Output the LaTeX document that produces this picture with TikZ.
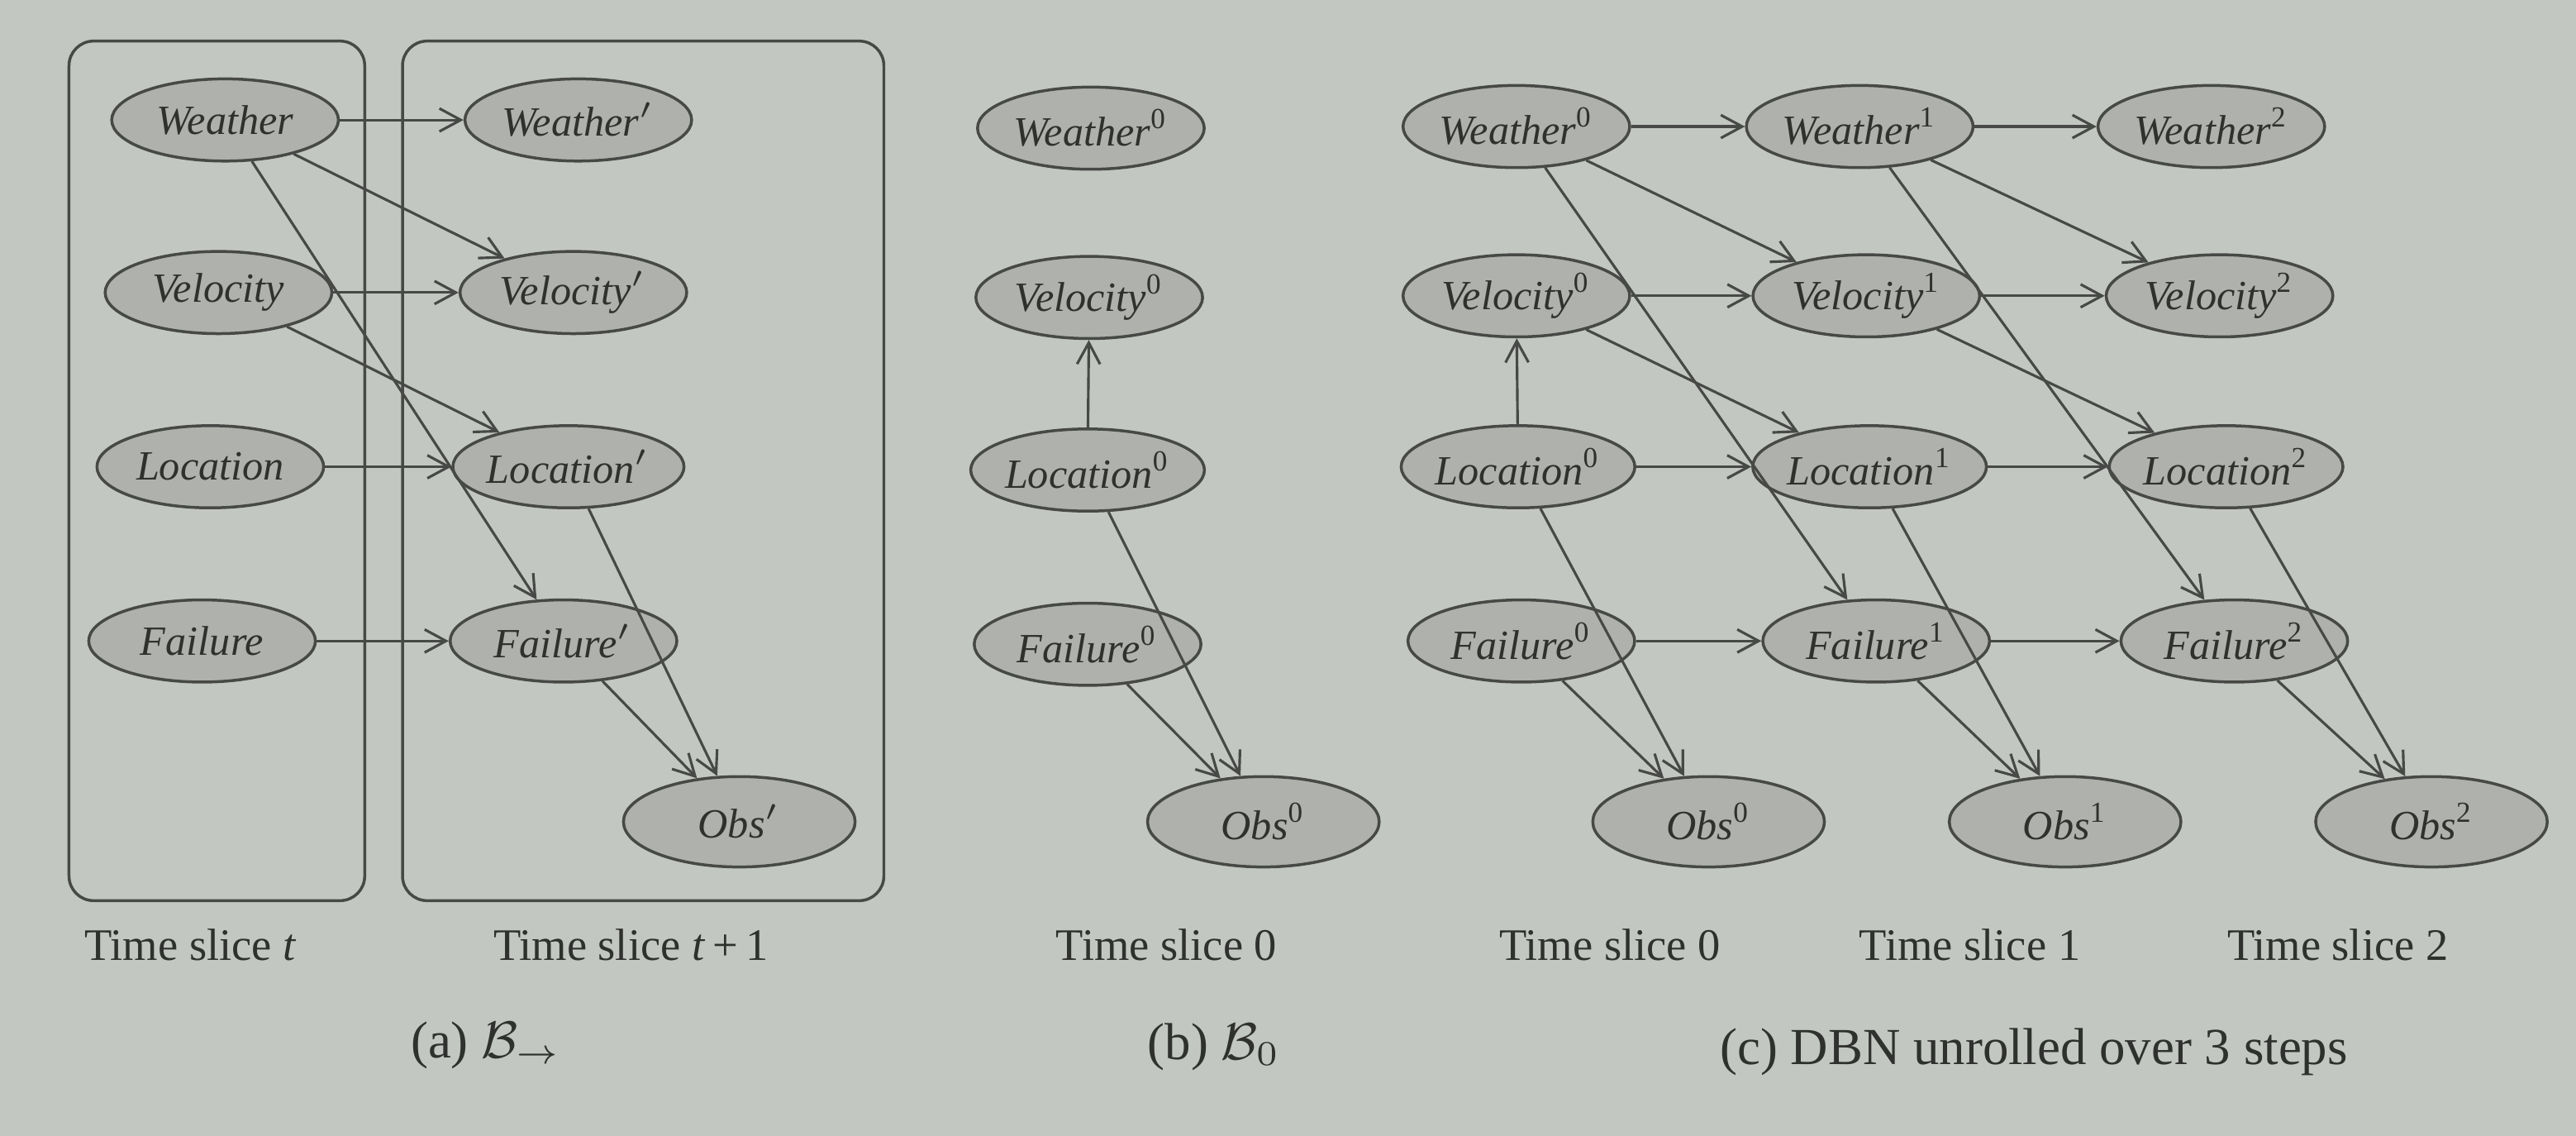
\documentclass[tikz,border=0pt]{standalone}
\usepackage{fontspec}
\setmainfont{Liberation Serif}
\usepackage{tikz}
\usetikzlibrary{arrows.meta,shapes.geometric}
\definecolor{paper}{HTML}{C3C7C2}
\definecolor{shade}{HTML}{AEB1AC}
\definecolor{ink}{HTML}{474946}
\definecolor{txt}{HTML}{2F312E}
\newcommand{\tsup}[1]{\textsuperscript{\upshape #1}}

\begin{document}
\begin{tikzpicture}[
 v/.style={ellipse,draw=ink,line width=.5pt,fill=shade,inner sep=0pt,minimum width=1.38cm,minimum height=.5cm,font=\fontsize{7.2}{8}\selectfont\itshape,text=txt},
 o/.style={v,minimum width=1.41cm,minimum height=.55cm},
 a/.style={-{Straight Barb[length=1.3mm,width=1.4mm]},draw=ink,line width=.45pt},
 box/.style={draw=ink,line width=.5pt,rounded corners=1.5mm},
 lbl/.style={font=\fontsize{7.8}{9}\selectfont,text=txt},
 capt/.style={font=\fontsize{9}{11}\selectfont,text=txt}
]
\fill[paper] (0,0) rectangle (15.68,-6.91);
\useasboundingbox (0,0) rectangle (15.68,-6.91);

% (a) two-slice network
\draw[box] (0.42,-0.25) rectangle (2.22,-5.48);
\draw[box] (2.45,-0.25) rectangle (5.38,-5.48);
\node[v] (aW) at (1.37,-0.73) {Weather};
\node[v] (aV) at (1.33,-1.78) {Velocity};
\node[v] (aL) at (1.28,-2.84) {Location};
\node[v] (aF) at (1.23,-3.90) {Failure};
\node[v] (aWn) at (3.52,-0.73) {Weather$'$};
\node[v] (aVn) at (3.49,-1.78) {Velocity$'$};
\node[v] (aLn) at (3.46,-2.84) {Location$'$};
\node[v] (aFn) at (3.43,-3.90) {Failure$'$};
\node[o] (aOn) at (4.50,-5.00) {Obs$'$};
\draw[a] (aW)--(aWn); \draw[a] (aW)--(aVn); \draw[a] (aW)--(aFn);
\draw[a] (aV)--(aVn); \draw[a] (aV)--(aLn);
\draw[a] (aL)--(aLn); \draw[a] (aF)--(aFn);
\draw[a] (aLn)--(aOn); \draw[a] (aFn)--(aOn);
\node[lbl] (aT0) at (1.16,-5.75) {Time slice \textit{t}};
\node[lbl] (aT1) at (3.84,-5.75) {Time slice \textit{t}\,+\,1};
\node[capt] (aCap) at (2.96,-6.36) {(a) $\mathcal{B}_{\rightarrow}$};

% (b) initial slice
\node[v] (bW) at (6.64,-0.78) {Weather\tsup{0}};
\node[v] (bV) at (6.63,-1.81) {Velocity\tsup{0}};
\node[v] (bL) at (6.62,-2.86) {Location\tsup{0}};
\node[v] (bF) at (6.62,-3.92) {Failure\tsup{0}};
\node[o] (bO) at (7.69,-5.00) {Obs\tsup{0}};
\draw[a] (bL)--(bV); \draw[a] (bL)--(bO); \draw[a] (bF)--(bO);
\node[lbl] (bT0) at (7.10,-5.75) {Time slice 0};
\node[capt] (bCap) at (7.39,-6.37) {(b) $\mathcal{B}_0$};

% (c) unrolled over three slices
\node[v] (cW0) at (9.23,-0.77) {Weather\tsup{0}};
\node[v] (cV0) at (9.23,-1.80) {Velocity\tsup{0}};
\node[v] (cL0) at (9.24,-2.84) {Location\tsup{0}};
\node[v] (cF0) at (9.26,-3.90) {Failure\tsup{0}};
\node[o] (cO0) at (10.40,-5.00) {Obs\tsup{0}};
\node[v] (cW1) at (11.32,-0.77) {Weather\tsup{1}};
\node[v] (cV1) at (11.36,-1.80) {Velocity\tsup{1}};
\node[v] (cL1) at (11.38,-2.84) {Location\tsup{1}};
\node[v] (cF1) at (11.42,-3.90) {Failure\tsup{1}};
\node[o] (cO1) at (12.57,-5.00) {Obs\tsup{1}};
\node[v] (cW2) at (13.46,-0.77) {Weather\tsup{2}};
\node[v] (cV2) at (13.51,-1.80) {Velocity\tsup{2}};
\node[v] (cL2) at (13.55,-2.84) {Location\tsup{2}};
\node[v] (cF2) at (13.60,-3.90) {Failure\tsup{2}};
\node[o] (cO2) at (14.80,-5.00) {Obs\tsup{2}};
\draw[a] (cL0)--(cV0);
\draw[a] (cW0)--(cW1); \draw[a] (cW0)--(cV1); \draw[a] (cW0)--(cF1);
\draw[a] (cV0)--(cV1); \draw[a] (cV0)--(cL1);
\draw[a] (cL0)--(cL1); \draw[a] (cF0)--(cF1);
\draw[a] (cW1)--(cW2); \draw[a] (cW1)--(cV2); \draw[a] (cW1)--(cF2);
\draw[a] (cV1)--(cV2); \draw[a] (cV1)--(cL2);
\draw[a] (cL1)--(cL2); \draw[a] (cF1)--(cF2);
\draw[a] (cL0)--(cO0); \draw[a] (cF0)--(cO0);
\draw[a] (cL1)--(cO1); \draw[a] (cF1)--(cO1);
\draw[a] (cL2)--(cO2); \draw[a] (cF2)--(cO2);
\node[lbl] (cT0) at (9.80,-5.75) {Time slice 0};
\node[lbl] (cT1) at (11.99,-5.75) {Time slice 1};
\node[lbl] (cT2) at (14.23,-5.75) {Time slice 2};
\node[capt] (cCap) at (12.38,-6.40) {(c) DBN unrolled over 3 steps};
\end{tikzpicture}
\end{document}
